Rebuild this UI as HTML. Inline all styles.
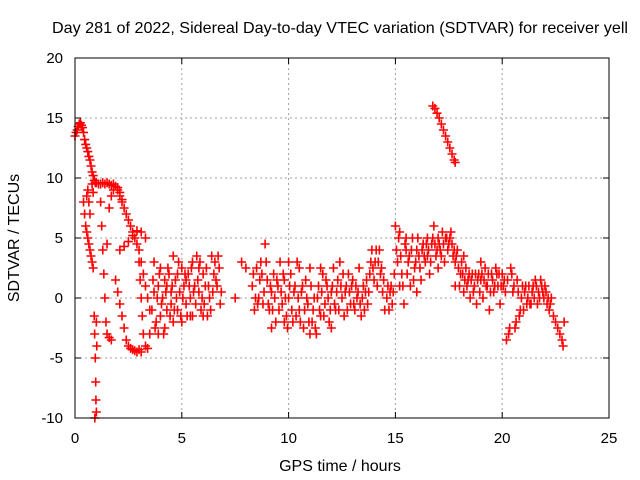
<!DOCTYPE html>
<html><head><meta charset="utf-8"><style>
body{margin:0;background:#fff}
svg{display:block;font-family:"Liberation Sans",sans-serif}
</style></head><body>
<svg id="chart" width="640" height="480">
<text x="340" y="33" font-size="16" text-anchor="middle" textLength="576" lengthAdjust="spacingAndGlyphs">Day 281 of 2022, Sidereal Day-to-day VTEC variation (SDTVAR) for receiver yell</text>
<text x="340" y="471" font-size="16" text-anchor="middle">GPS time / hours</text>
<text transform="translate(19,238) rotate(-90)" font-size="16" text-anchor="middle">SDTVAR / TECUs</text>
<g id="grid"></g><g id="ticks"></g><g id="pts"></g>
<rect x="75" y="58" width="534" height="360" fill="none" stroke="#000" stroke-width="1"/>
</svg>
<script>
const xTicks=[0,5,10,15,20,25];
const yTicks=[-10,-5,0,5,10,15,20];
const times=[0,0.05,0.1,0.15,0.2,0.25,0.3,0.35,0.4,0.45,0.5,0.55,0.6,0.65,0.7,0.75,0.8,0.85,0.9,0.95,1.0,1.1,1.2,1.3,1.4,1.5,1.6,1.7,1.8,1.9,2.0,2.1,2.2,2.3,2.4,2.5,2.6,2.7,2.8,2.9,3.0,3.1,3.2,3.3,3.4,3.5,
0.4,0.45,0.5,0.55,0.6,0.65,0.7,0.75,0.8,0.85,0.55,0.6,0.65,0.7,0.8,0.85,
0.9,0.92,0.95,0.97,0.98,1.0,0.93,1.0,1.02,
1.2,1.25,1.3,1.35,1.4,1.45,1.5,1.6,1.7,1.5,1.6,1.7,1.8,2.0,2.1,2.2,
2.1,2.3,2.5,2.7,2.9,3.1,3.3,
1.9,2.0,2.1,2.2,2.3,2.4,2.5,2.6,2.7,2.8,2.9,3.0,3.1,
3.0,3.05,3.1,3.15,3.2,3.3,3.4,3.5,
3.6,3.7,3.8,3.9,4.0,4.1,4.2,4.3,4.4,4.5,4.6,4.6,4.7,4.8,4.9,5.0,5.0,5.1,5.2,5.3,5.4,5.5,5.5,5.6,5.7,5.8,5.9,6.0,6.1,6.2,6.3,6.4,6.5,6.6,6.7,6.8,3.7,3.9,4.3,4.0,4.5,5.2,5.8,6.0,4.2,4.8,5.4,
7.5,7.8,8.0,
8.3,8.4,8.5,8.6,8.7,8.8,8.9,9.0,9.1,9.2,9.3,9.4,9.5,9.6,9.7,9.8,9.9,10.0,10.1,10.2,10.3,10.4,10.5,10.6,10.7,10.8,10.9,11.0,11.1,11.2,11.3,11.4,11.5,11.6,11.7,11.8,11.9,12.0,12.1,12.2,12.3,12.4,12.5,12.6,12.7,12.8,12.9,13.0,13.1,13.2,13.3,13.4,13.5,13.6,13.7,13.8,13.9,14.0,14.1,14.2,14.3,14.4,14.5,9.2,10.5,11.0,11.5,12.0,9.8,10.0,
14.6,14.7,14.8,14.9,15.0,15.1,15.2,15.3,15.4,15.5,15.6,15.7,15.8,15.9,16.0,16.1,16.2,16.3,16.4,16.5,16.6,16.7,16.8,16.9,17.0,17.1,17.2,17.3,17.4,17.5,17.6,17.7,17.8,17.9,15.2,15.5,16.0,16.5,17.0,
16.75,16.85,16.95,17.05,17.15,17.25,17.35,17.45,17.55,17.65,17.75,17.8,
18.0,18.1,18.2,18.3,18.4,18.5,18.6,18.7,18.8,18.9,19.0,19.1,19.2,19.3,19.4,19.5,19.6,19.7,19.8,19.9,20.0,20.1,20.2,20.3,20.4,20.5,20.6,20.7,20.8,20.9,21.0,21.1,21.2,21.3,21.4,21.5,21.6,21.7,21.8,21.9,22.0,22.1,22.2,22.3,22.4,22.5,22.6,22.7,22.8,22.85,22.9,19.0,18.2,17.8];
const values=[13.5,13.8,14,14.3,14.5,14.6,14.4,14.2,13.8,13.2,12.8,12.5,12.2,11.8,11.5,11,10.5,10.2,9.8,9.6,9.6,9.5,9.5,9.6,9.5,9.6,9.5,9.4,9.5,9.3,9,8.5,8,7.5,7,6.5,6,5.5,5,4.5,4,3,2,1,0,-1,
8,7,6,5.5,5,4.5,4,3.5,3,2.5,8.5,9,8,7,9.5,8.8,
-1.5,-3,-5,-7,-8.5,-9.5,-10,-2,-4,
8,6,4,2,0,-2,-3,-3.3,-3.5,4.5,7.5,8.5,9,9.2,8.8,8.2,
4,4.3,4.7,5.2,5.6,5.5,5,
1.5,0.5,-0.5,-1.5,-2.5,-3.5,-4,-4.2,-4.3,-4.4,-4.5,-4.3,-4.5,
3,1.5,0,-1.5,-3,-4,-4.2,-3,
-1,0.5,-2,1,-1.5,0,-2.5,1,2,-0.5,3.5,-2,1.5,-1,0.5,2.5,-2,1,-0.5,2,0,3,-1.5,1,3.5,0.5,-1,2,1,-1.5,0,3.5,2,1.5,3.5,-0.5,3,-3,-1,2.5,0.5,1.5,2.5,-1.5,1.5,2,-1.5,
0,3,2.5,
1,-1,2.5,0,3,-0.5,4.5,1.5,-1,0.5,2,-2,1,3,-0.5,1.5,-1.5,0,2,-2,1,3,-1,0.5,-2.5,1.5,-0.5,2.5,-2,0,-3,1,-1.5,2,-0.5,1,-2,0.5,2.5,-1,1.5,3,0,-1.5,1,2,-0.5,1.5,-1,0,2.5,-1.5,1,0.5,-0.5,2,4,1.5,4,3,2,0.5,-1,-2.5,2.5,-3,2.5,-2.5,-2,3,
0,-1,1,0.5,6,3,5.5,2,-0.5,4,3,1,5,2.5,4,3.5,1.5,4.5,3,5,2,4.5,6,3.5,5,4,5.5,3,5,4.5,5.5,3.5,1,4,1,5,0.5,3.5,2.5,
16,15.8,15.4,15,14.5,14,13.5,13,12.5,12,11.5,11.3,
1,3,0.5,2.5,1.5,0,2,1,-0.5,2,1.5,0,2.5,1,-1,2,0.5,2.5,1,-0.5,2,1.5,-3.5,-3,2.5,0.5,-2.5,1.5,-1.5,0,-1,1,0,-0.5,0.5,0,1,0.5,1.5,0.5,1,-0.5,-1,0,-1.5,-2,-2.5,-3,-3.5,-4,-2,3,3.5,3];
const extraTimes=[3.65,3.75,3.85,3.95,4.05,4.15,4.25,4.35,4.45,4.55,4.65,4.75,4.85,4.95,5.05,5.15,5.25,5.35,5.45,5.55,5.65,5.75,5.85,5.95,6.05,6.15,6.25,6.35,6.45,6.55,6.65,6.75,6.85,
8.35,8.45,8.55,8.65,8.75,8.85,8.95,9.05,9.15,9.25,9.35,9.45,9.55,9.65,9.75,9.85,9.95,10.05,10.15,10.25,10.35,10.45,10.55,10.65,10.75,10.85,10.95,11.05,11.15,11.25,11.35,11.45,11.55,11.65,11.75,11.85,11.95,12.05,12.15,12.25,12.35,12.45,12.55,12.65,12.75,12.85,12.95,13.05,13.15,13.25,13.35,13.45,13.55,13.65,13.75,13.85,13.95,14.05,14.15,14.25,14.35,14.45,
14.65,14.75,14.85,14.95,15.05,15.15,15.25,15.35,15.45,15.55,15.65,15.75,15.85,15.95,16.05,16.15,16.25,16.35,16.45,16.55,16.65,16.75,16.85,16.95,17.05,17.15,17.25,17.35,17.45,17.55,17.65,17.75,17.85,17.95,
18.05,18.15,18.25,18.35,18.45,18.55,18.65,18.75,18.85,18.95,19.05,19.15,19.25,19.35,19.45,19.55,19.65,19.75,19.85,19.95,20.05,20.15,20.25,20.35,20.45,20.55,20.65,20.75,20.85,20.95,21.05,21.15,21.25,21.35,21.45,21.55,21.65,21.75,21.85,21.95,22.05,22.15,22.25];
const extraValues=[1.5,-2.5,0,2,-0.5,-3,0.5,2.5,-1.5,1,-1,0,3,-1.5,0,2,-1.5,1,2.5,0.5,-0.5,1.5,3,0,-0.5,2.5,1,-1,0.5,3,1,2.5,0.5,
2,0,-0.5,1.5,2,0.5,3,-0.5,1,-1,0,1.5,-1,0.5,2,0,-2.5,1,-1,0.5,-1.5,0,-2,1,-1,0,-2,1,-1,-2.5,0,-1,0.5,-1.5,1.5,0,-1,1,-0.5,0.5,-1,1,2,0.5,-1,0.5,1,-0.5,1,0.5,-0.5,0,-1,1.5,0.5,3,2.5,3,1,4,2.5,1.5,
1,0.5,-0.5,2,4,5,3.5,1,4.5,2,3.5,4,1.5,3,5,2.5,4,3.5,4.5,4,3,5,4.5,4,4.5,3.5,4.5,5,4,5,4.5,4,3.5,2.5,
2,2,1.5,1,2,1.5,0.5,2,1.5,0.5,2,1.5,1,2,0.5,1.5,1,2,2,1,1,0.5,1.5,-2.5,2,1,-2,0.5,-1,1,0.5,-0.5,1,-0.5,1,1.5,-0.5,0,1,0,0.5,0,-0.5];
const X0=75,X1=609,Y0=418,Y1=58;
const sx=t=>X0+(t-0)/(25-0)*(X1-X0);
const sy=v=>Y0-(v+10)/(30)*(Y0-Y1);
const NS="http://www.w3.org/2000/svg";
const grid=document.getElementById('grid'),tk=document.getElementById('ticks'),pts=document.getElementById('pts');
function mk(tag,attrs,parent){const e=document.createElementNS(NS,tag);for(const k in attrs)e.setAttribute(k,attrs[k]);parent.appendChild(e);return e;}
xTicks.forEach(t=>{const x=sx(t);
 if(t>0&&t<25){const g=mk('line',{x1:x,x2:x,y1:Y1,y2:Y0,stroke:'#a0a0a0','stroke-dasharray':'2,3'},grid);
 
 }
 mk('line',{x1:x,x2:x,y1:Y0,y2:Y0-6,stroke:'#000'},tk);mk('line',{x1:x,x2:x,y1:Y1,y2:Y1+6,stroke:'#000'},tk);
 const l=mk('text',{x:x,y:Y0+25,'font-size':15,'text-anchor':'middle'},tk);l.textContent=t;
 
 });
yTicks.forEach(v=>{const y=sy(v);
 if(v>-10&&v<20){const g=mk('line',{x1:X0,x2:X1,y1:y,y2:y,stroke:'#a0a0a0','stroke-dasharray':'2,3'},grid);
 
 }
 mk('line',{x1:X0,x2:X0+6,y1:y,y2:y,stroke:'#000'},tk);mk('line',{x1:X1,x2:X1-6,y1:y,y2:y,stroke:'#000'},tk);
 const l=mk('text',{x:X0-12,y:y+5,'font-size':15,'text-anchor':'end'},tk);l.textContent=v;
 
 });
let d='';
const allT=times.concat(extraTimes), allV=values.concat(extraValues);
allT.forEach((t,i)=>{const x=sx(t),y=sy(allV[i]);d+=`M${x-4.5},${y}h9M${x},${y-4.5}v9`;});
const p=mk('path',{d:d,stroke:'#ff0000','stroke-width':1.6,fill:'none'},pts);


</script>
</body></html>
